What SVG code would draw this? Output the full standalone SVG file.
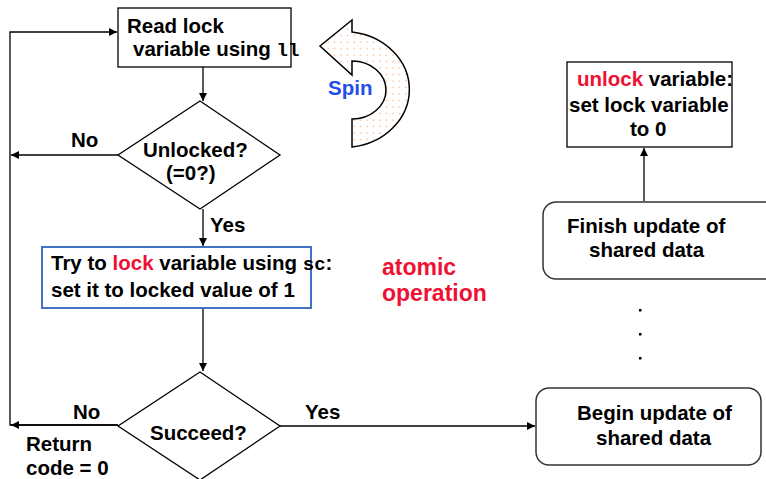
<svg xmlns="http://www.w3.org/2000/svg" width="766" height="479" viewBox="0 0 766 479">
<style>
text{font-family:"Liberation Sans",Arial,sans-serif;font-weight:bold;font-size:20.5px;fill:#000}
.mono{font-family:"Liberation Mono","Courier New",monospace;font-weight:bold;font-size:19px}
.red{fill:#EE1133}
.big{font-size:23px}
.blue{fill:#1F4FE6}
.box{fill:#fff;stroke:#000;stroke-width:1.3}
.rbox{fill:#fff;stroke:#333;stroke-width:1.5}
.line{fill:none;stroke:#000;stroke-width:1.3}
</style>
<defs>
<marker id="ah" viewBox="0 0 10 10" refX="10" refY="5" markerWidth="8" markerHeight="8" markerUnits="userSpaceOnUse" orient="auto">
<path d="M0,0 L10,5 L0,10 Z" fill="#000"/>
</marker>
<pattern id="dots" width="6.5" height="6.5" patternUnits="userSpaceOnUse">
<rect width="6.5" height="6.5" fill="#fff"/>
<rect x="2.5" y="2.5" width="1" height="1" fill="#F07828"/>
</pattern>
</defs>

<g id="connectors">
<polyline class="line" points="118,425 10,425 10,32 117,32" marker-end="url(#ah)"/>
<path class="line" d="M118,425 L11,425" marker-end="url(#ah)"/>
<line class="line" x1="203" y1="67" x2="203" y2="101" marker-end="url(#ah)"/>
<line class="line" x1="118" y1="155" x2="11" y2="155" marker-end="url(#ah)"/>
<line class="line" x1="203" y1="209" x2="203" y2="246" marker-end="url(#ah)"/>
<line class="line" x1="203" y1="308" x2="203" y2="371" marker-end="url(#ah)"/>
<line class="line" x1="280" y1="426" x2="535" y2="426" marker-end="url(#ah)"/>
<line class="line" x1="644" y1="201" x2="644" y2="148" marker-end="url(#ah)"/>
<text x="71" y="147">No</text>
<text x="210" y="232">Yes</text>
<text x="73" y="419">No</text>
<text x="305" y="419">Yes</text>
</g>

<g id="read">
<rect class="box" x="118" y="8" width="173" height="59"/>
<text x="127" y="33">Read lock</text>
<text x="133" y="56">variable using <tspan class="mono">ll</tspan></text>
</g>

<g id="spin">
<path d="M352,147 A66,58 0 0 0 352,32 L352,20 L320,46 L352,75 L352,61 A34,29 0 0 1 352,119 Z" fill="url(#dots)" stroke="#000" stroke-width="1.5" stroke-linejoin="miter"/>
<text class="blue" x="328" y="95">Spin</text>
</g>

<g id="unlocked">
<polygon class="box" points="200,101 280,155 200,209 118,155"/>
<text x="143" y="157">Unlocked?</text>
<text x="166" y="180">(=0?)</text>
</g>

<g id="trylock">
<rect x="42" y="247" width="269" height="61" fill="#fff" stroke="#4472C4" stroke-width="2"/>
<text x="51" y="270">Try to <tspan class="red">lock</tspan> variable using <tspan class="mono">sc</tspan>:</text>
<text x="51" y="297">set it to locked value of 1</text>
</g>

<g id="atomic">
<text class="red big" x="382" y="275">atomic</text>
<text class="red big" x="382" y="301">operation</text>
</g>

<g id="succeed">
<polygon class="box" points="200,372 280,426 200,480 118,426"/>
<text x="150" y="440">Succeed?</text>
</g>

<g id="return">
<text x="26" y="451">Return</text>
<text x="26" y="475">code = 0</text>
</g>

<g id="unlock">
<rect class="box" x="567" y="62" width="165" height="85"/>
<text x="577" y="86"><tspan class="red">unlock</tspan> variable:</text>
<text x="569" y="112">set lock variable</text>
<text x="630" y="136">to 0</text>
</g>

<g id="finish">
<rect class="rbox" x="543" y="202" width="240" height="77" rx="13"/>
<text x="567" y="233">Finish update of</text>
<text x="589" y="257">shared data</text>
</g>

<g id="dotsv">
<rect x="639" y="309" width="2.5" height="2.5" fill="#000"/>
<rect x="639" y="333" width="2.5" height="2.5" fill="#000"/>
<rect x="639" y="357" width="2.5" height="2.5" fill="#000"/>
</g>

<g id="begin">
<rect class="rbox" x="536" y="388" width="225" height="77" rx="13"/>
<text x="577" y="420">Begin update of</text>
<text x="596" y="445">shared data</text>
</g>
</svg>
